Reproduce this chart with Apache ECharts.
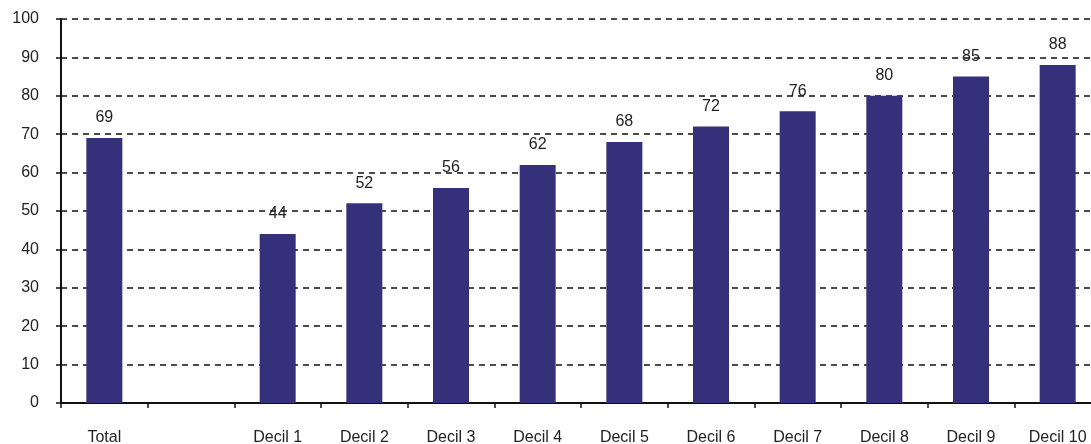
<!DOCTYPE html>
<html><head><meta charset="utf-8">
<script src="https://cdn.jsdelivr.net/npm/echarts@6/dist/echarts.min.js"></script>
<style>html,body{margin:0;padding:0;background:#fff}#c{width:1091px;height:444px}</style>
</head><body><div id="c"></div>
<script>
const categories = ['Total', '', 'Decil 1', 'Decil 2', 'Decil 3', 'Decil 4', 'Decil 5', 'Decil 6', 'Decil 7', 'Decil 8', 'Decil 9', 'Decil 10'];
const values = [69, null, 44, 52, 56, 62, 68, 72, 76, 80, 85, 88];
const yTicks = [0, 10, 20, 30, 40, 50, 60, 70, 80, 90, 100];

const chart = echarts.init(document.getElementById('c'));
chart.setOption({
  animation: false,
  grid: { left: 61, top: 19, bottom: 41, width: 1040, containLabel: false, outerBoundsMode: 'none' },
  xAxis: {
    type: 'category',
    data: categories,
    axisLine: { lineStyle: { color: '#111', width: 2 } },
    axisTick: { show: true, length: 5, lineStyle: { color: '#111', width: 1.5 } },
    axisLabel: { color: '#222', fontSize: 16, fontFamily: 'Liberation Sans, Arial, sans-serif', margin: 27, interval: 0 }
  },
  yAxis: {
    type: 'value',
    min: yTicks[0], max: yTicks[yTicks.length - 1], interval: 10,
    axisLine: { show: true, lineStyle: { color: '#111', width: 2 } },
    axisTick: { show: true, length: 5, lineStyle: { color: '#111', width: 1.5 } },
    axisLabel: { color: '#222', fontSize: 16, fontFamily: 'Liberation Sans, Arial, sans-serif', margin: 22 },
    splitLine: { show: true, lineStyle: { color: '#111', width: 1.5, type: [6, 5] } }
  },
  series: [{
    type: 'bar',
    data: values,
    barWidth: 36,
    itemStyle: { color: '#35307a' },
    label: { show: true, position: 'top', distance: 12, color: '#222', fontSize: 16, fontFamily: 'Liberation Sans, Arial, sans-serif' }
  }]
});
</script></body></html>
